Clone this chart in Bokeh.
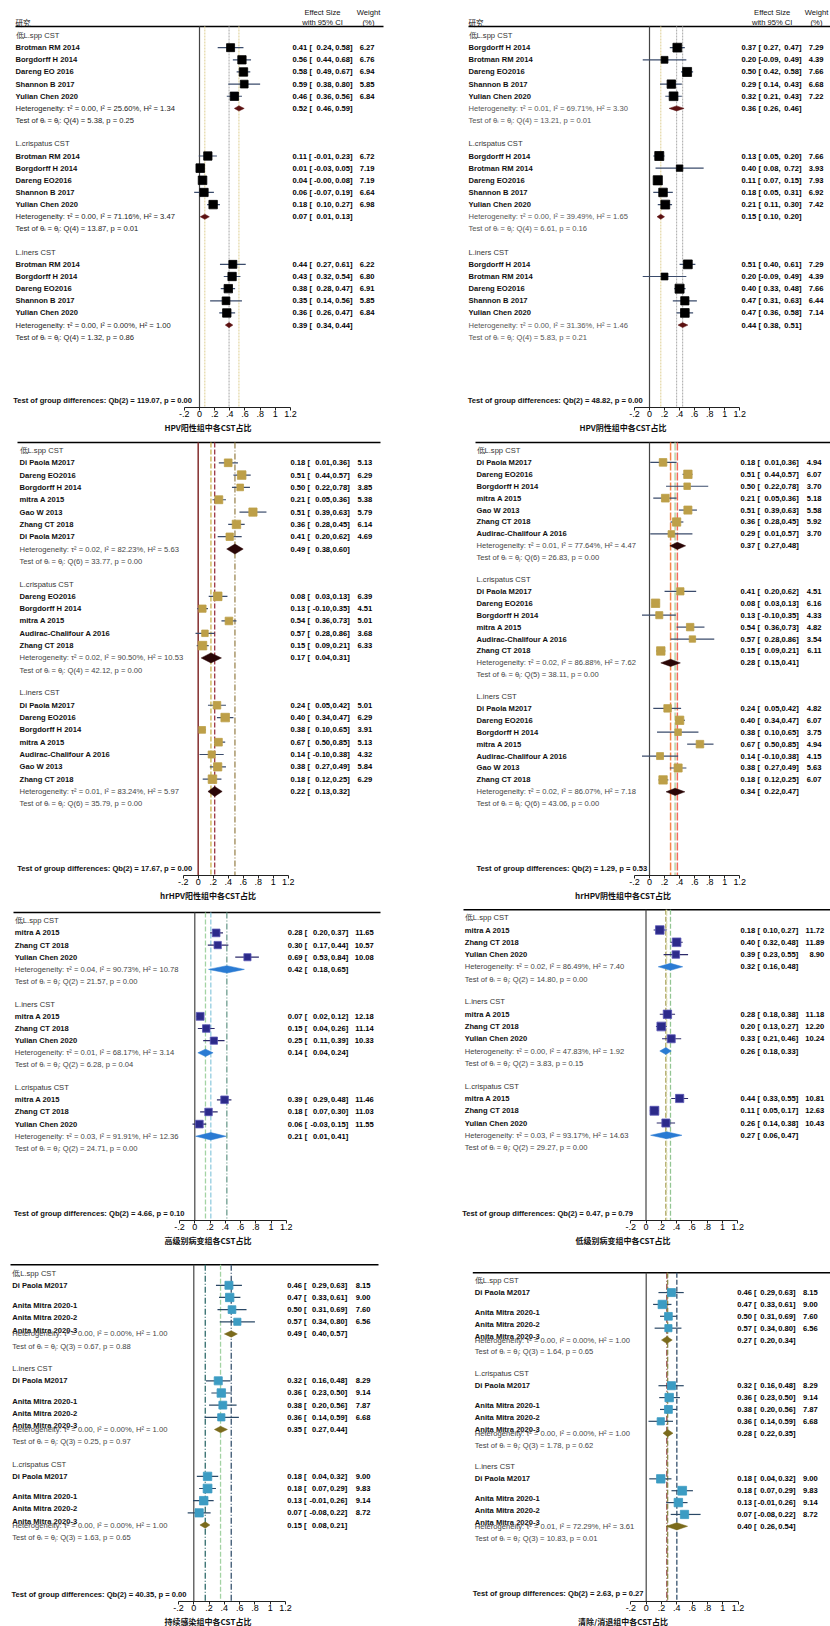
import math
from bokeh.plotting import figure
from bokeh.models import Range1d, FixedTicker, CustomJSTickFormatter, Title
from bokeh.layouts import column, row
from bokeh.core.properties import value
from bokeh.embed import file_html
from bokeh.resources import INLINE

# ---------------- DATA ----------------
AXIS_TICKS = [-0.2, 0, 0.2, 0.4, 0.6, 0.8, 1.0, 1.2]
HEAD_ES = ["Effect Size", "with 95% CI"]
HEAD_W = ["Weight", "(%)"]
HEAD_STUDY = "研究"

# Panel 1: HPV positive
P1_TITLE = "HPV阳性组中各CST占比"
P1_GROUPS = ["低L.spp CST", "L.crispatus CST", "L.iners CST"]
P1_STUDIES = [["Brotman RM 2014", "Borgdorff H 2014", "Dareng EO 2016", "Shannon B 2017", "Yulian Chen 2020"],
              ["Brotman RM 2014", "Borgdorff H 2014", "Dareng EO2016", "Shannon B 2017", "Yulian Chen 2020"],
              ["Brotman RM 2014", "Borgdorff H 2014", "Dareng EO2016", "Shannon B 2017", "Yulian Chen 2020"]]
P1_ES = [[0.41, 0.56, 0.58, 0.59, 0.46], [0.11, 0.01, 0.04, 0.06, 0.18], [0.44, 0.43, 0.38, 0.35, 0.36]]
P1_LO = [[0.24, 0.44, 0.49, 0.38, 0.36], [-0.01, -0.03, -0.0, -0.07, 0.10], [0.27, 0.32, 0.28, 0.14, 0.26]]
P1_HI = [[0.58, 0.68, 0.67, 0.80, 0.56], [0.23, 0.05, 0.08, 0.19, 0.27], [0.61, 0.54, 0.47, 0.56, 0.47]]
P1_W = [[6.27, 6.76, 6.94, 5.85, 6.84], [6.72, 7.19, 7.19, 6.64, 6.98], [6.22, 6.80, 6.91, 5.85, 6.84]]
P1_OV = [[0.52, 0.46, 0.59], [0.07, 0.01, 0.13], [0.39, 0.34, 0.44]]
P1_HET = ["τ² = 0.00, I² = 25.60%, H² = 1.34", "τ² = 0.00, I² = 71.16%, H² = 3.47", "τ² = 0.00, I² = 0.00%, H² = 1.00"]
P1_TEST = ["Q(4) = 5.38, p = 0.25", "Q(4) = 13.87, p = 0.01", "Q(4) = 1.32, p = 0.86"]
P1_GD = "Qb(2) = 119.07, p = 0.00"

# Panel 2: HPV negative
P2_TITLE = "HPV阴性组中各CST占比"
P2_GROUPS = ["低L.spp CST", "L.crispatus CST", "L.iners CST"]
P2_STUDIES = [["Borgdorff H 2014", "Brotman RM 2014", "Dareng EO2016", "Shannon B 2017", "Yulian Chen 2020"]] * 3
P2_ES = [[0.37, 0.20, 0.50, 0.29, 0.32], [0.13, 0.40, 0.11, 0.18, 0.21], [0.51, 0.20, 0.40, 0.47, 0.47]]
P2_LO = [[0.27, -0.09, 0.42, 0.14, 0.21], [0.05, 0.08, 0.07, 0.05, 0.11], [0.40, -0.09, 0.33, 0.31, 0.36]]
P2_HI = [[0.47, 0.49, 0.58, 0.43, 0.43], [0.20, 0.72, 0.15, 0.31, 0.30], [0.61, 0.49, 0.48, 0.63, 0.58]]
P2_W = [[7.29, 4.39, 7.66, 6.68, 7.22], [7.66, 3.93, 7.93, 6.92, 7.42], [7.29, 4.39, 7.66, 6.44, 7.14]]
P2_OV = [[0.36, 0.26, 0.46], [0.15, 0.10, 0.20], [0.44, 0.38, 0.51]]
P2_HET = ["τ² = 0.01, I² = 69.71%, H² = 3.30", "τ² = 0.00, I² = 39.49%, H² = 1.65", "τ² = 0.00, I² = 31.36%, H² = 1.46"]
P2_TEST = ["Q(4) = 13.21, p = 0.01", "Q(4) = 6.61, p = 0.16", "Q(4) = 5.83, p = 0.21"]
P2_GD = "Qb(2) = 48.82, p = 0.00"

# Panel 3: hrHPV positive (listed values and plotted markers differ in the source)
P3_TITLE = "hrHPV阳性组中各CST占比"
P3_GROUPS = ["低L.spp CST", "L.crispatus CST", "L.iners CST"]
P3_STUDIES = [["Di Paola M2017", "Dareng EO2016", "Borgdorff H 2014", "mitra A 2015", "Gao W 2013", "Zhang CT 2018", "Di Paola M2017"],
              ["Dareng EO2016", "Borgdorff H 2014", "mitra A 2015", "Audirac-Chalifour A 2016", "Zhang CT 2018"],
              ["Di Paola M2017", "Dareng EO2016", "Borgdorff H 2014", "mitra A 2015", "Audirac-Chalifour A 2016", "Gao W 2013", "Zhang CT 2018"]]
P3_ES = [[0.18, 0.51, 0.50, 0.21, 0.51, 0.36, 0.41], [0.08, 0.13, 0.54, 0.57, 0.15], [0.24, 0.40, 0.38, 0.67, 0.14, 0.38, 0.18]]
P3_LO = [[0.01, 0.44, 0.22, 0.05, 0.39, 0.28, 0.20], [0.03, -0.10, 0.36, 0.28, 0.09], [0.05, 0.34, 0.10, 0.50, -0.10, 0.27, 0.12]]
P3_HI = [[0.36, 0.57, 0.78, 0.36, 0.63, 0.45, 0.62], [0.13, 0.35, 0.73, 0.86, 0.21], [0.42, 0.47, 0.65, 0.85, 0.38, 0.49, 0.25]]
P3_W = [[5.13, 6.29, 3.85, 5.38, 5.79, 6.14, 4.69], [6.39, 4.51, 5.01, 3.68, 6.33], [5.01, 6.29, 3.91, 5.13, 4.32, 5.84, 6.29]]
P3_PLOT_ES = [[0.40, 0.58, 0.56, 0.275, 0.73, 0.51, 0.42], [0.26, 0.057, 0.41, 0.09, 0.057], [0.25, 0.36, 0.053, 0.27, 0.18, 0.26, 0.19]]
P3_PLOT_LO = [[0.275, 0.47, 0.45, 0.19, 0.55, 0.40, 0.26], [0.14, -0.013, 0.31, -0.036, -0.02], [0.13, 0.25, 0.0, 0.21, 0.017, 0.155, 0.06]]
P3_PLOT_HI = [[0.53, 0.70, 0.69, 0.37, 0.91, 0.62, 0.58], [0.39, 0.13, 0.51, 0.22, 0.14], [0.37, 0.47, 0.10, 0.36, 0.34, 0.37, 0.31]]
P3_OV = [[0.49, 0.38, 0.60], [0.17, 0.04, 0.31], [0.22, 0.13, 0.32]]
P3_HET = ["τ² = 0.02, I² = 82.23%, H² = 5.63", "τ² = 0.02, I² = 90.50%, H² = 10.53", "τ² = 0.01, I² = 83.24%, H² = 5.97"]
P3_TEST = ["Q(6) = 33.77, p = 0.00", "Q(4) = 42.12, p = 0.00", "Q(6) = 35.79, p = 0.00"]
P3_GD = "Qb(2) = 17.67, p = 0.00"

# Panel 4: hrHPV negative
P4_TITLE = "hrHPV阴性组中各CST占比"
P4_GROUPS = ["低L.spp CST", "L.crispatus CST", "L.iners CST"]
P4_STUDIES = [["Di Paola M2017", "Dareng EO2016", "Borgdorff H 2014", "mitra A 2015", "Gao W 2013", "Zhang CT 2018", "Audirac-Chalifour A 2016"],
              ["Di Paola M2017", "Dareng EO2016", "Borgdorff H 2014", "mitra A 2015", "Audirac-Chalifour A 2016", "Zhang CT 2018"],
              ["Di Paola M2017", "Dareng EO2016", "Borgdorff H 2014", "mitra A 2015", "Audirac-Chalifour A 2016", "Gao W 2013", "Zhang CT 2018"]]
P4_ES = [[0.18, 0.51, 0.50, 0.21, 0.51, 0.36, 0.29], [0.41, 0.08, 0.13, 0.54, 0.57, 0.15], [0.24, 0.40, 0.38, 0.67, 0.14, 0.38, 0.18]]
P4_LO = [[0.01, 0.44, 0.22, 0.05, 0.39, 0.28, 0.01], [0.20, 0.03, -0.10, 0.36, 0.28, 0.09], [0.05, 0.34, 0.10, 0.50, -0.10, 0.27, 0.12]]
P4_HI = [[0.36, 0.57, 0.78, 0.36, 0.63, 0.45, 0.57], [0.62, 0.13, 0.35, 0.73, 0.86, 0.21], [0.42, 0.47, 0.65, 0.85, 0.38, 0.49, 0.25]]
P4_W = [[4.94, 6.07, 3.70, 5.18, 5.58, 5.92, 3.70], [4.51, 6.16, 4.33, 4.82, 3.54, 6.11], [4.82, 6.07, 3.75, 4.94, 4.15, 5.63, 6.07]]
P4_OV = [[0.37, 0.27, 0.48], [0.28, 0.15, 0.41], [0.34, 0.22, 0.47]]
P4_HET = ["τ² = 0.01, I² = 77.64%, H² = 4.47", "τ² = 0.02, I² = 86.88%, H² = 7.62", "τ² = 0.02, I² = 86.07%, H² = 7.18"]
P4_TEST = ["Q(6) = 26.83, p = 0.00", "Q(5) = 38.11, p = 0.00", "Q(6) = 43.06, p = 0.00"]
P4_GD = "Qb(2) = 1.29, p = 0.53"

# Panel 5: high-grade lesion
P5_TITLE = "高级别病变组各CST占比"
P5_GROUPS = ["低L.spp CST", "L.iners CST", "L.crispatus CST"]
P5_STUDIES = [["mitra A 2015", "Zhang CT 2018", "Yulian Chen 2020"]] * 3
P5_ES = [[0.28, 0.30, 0.69], [0.07, 0.15, 0.25], [0.39, 0.18, 0.06]]
P5_LO = [[0.20, 0.17, 0.53], [0.02, 0.04, 0.11], [0.29, 0.07, -0.03]]
P5_HI = [[0.37, 0.44, 0.84], [0.12, 0.26, 0.39], [0.48, 0.30, 0.15]]
P5_W = [[11.65, 10.57, 10.08], [12.18, 11.14, 10.33], [11.46, 11.03, 11.55]]
P5_OV = [[0.42, 0.18, 0.65], [0.14, 0.04, 0.24], [0.21, 0.01, 0.41]]
P5_HET = ["τ² = 0.04, I² = 90.73%, H² = 10.78", "τ² = 0.01, I² = 68.17%, H² = 3.14", "τ² = 0.03, I² = 91.91%, H² = 12.36"]
P5_TEST = ["Q(2) = 21.57, p = 0.00", "Q(2) = 6.28, p = 0.04", "Q(2) = 24.71, p = 0.00"]
P5_GD = "Qb(2) = 4.66, p = 0.10"

# Panel 6: low-grade lesion
P6_TITLE = "低级别病变组中各CST占比"
P6_GROUPS = ["低L.spp CST", "L.iners CST", "L.crispatus CST"]
P6_STUDIES = [["mitra A 2015", "Zhang CT 2018", "Yulian Chen 2020"]] * 3
P6_ES = [[0.18, 0.40, 0.39], [0.28, 0.20, 0.33], [0.44, 0.11, 0.26]]
P6_LO = [[0.10, 0.32, 0.23], [0.18, 0.13, 0.21], [0.33, 0.05, 0.14]]
P6_HI = [[0.27, 0.48, 0.55], [0.38, 0.27, 0.46], [0.55, 0.17, 0.38]]
P6_W = [[11.72, 11.89, 8.90], [11.18, 12.20, 10.24], [10.81, 12.63, 10.43]]
P6_OV = [[0.32, 0.16, 0.48], [0.26, 0.18, 0.33], [0.27, 0.06, 0.47]]
P6_HET = ["τ² = 0.02, I² = 86.49%, H² = 7.40", "τ² = 0.00, I² = 47.83%, H² = 1.92", "τ² = 0.03, I² = 93.17%, H² = 14.63"]
P6_TEST = ["Q(2) = 14.80, p = 0.00", "Q(2) = 3.83, p = 0.15", "Q(2) = 29.27, p = 0.00"]
P6_GD = "Qb(2) = 0.47, p = 0.79"

# Panel 7: persistent infection
R4_LABELS = ["Di Paola M2017", "Anita Mitra 2020-1", "Anita Mitra 2020-2", "Anita Mitra 2020-3"]
R4_LABEL_ROWS = [0, 1.67, 2.67, 3.7]
P7_TITLE = "持续感染组中各CST占比"
P7_GROUPS = ["低L.spp CST", "L.iners CST", "L.crispatus CST"]
P7_ES = [[0.46, 0.47, 0.50, 0.57], [0.32, 0.36, 0.38, 0.36], [0.18, 0.18, 0.13, 0.07]]
P7_LO = [[0.29, 0.33, 0.31, 0.34], [0.16, 0.23, 0.20, 0.14], [0.04, 0.07, -0.01, -0.08]]
P7_HI = [[0.63, 0.61, 0.69, 0.80], [0.48, 0.50, 0.56, 0.59], [0.32, 0.29, 0.26, 0.22]]
P7_W = [[8.15, 9.00, 7.60, 6.56], [8.29, 9.14, 7.87, 6.68], [9.00, 9.83, 9.14, 8.72]]
P7_OV = [[0.49, 0.40, 0.57], [0.35, 0.27, 0.44], [0.15, 0.08, 0.21]]
P7_HET = ["τ² = 0.00, I² = 0.00%, H² = 1.00"] * 3
P7_TEST = ["Q(3) = 0.67, p = 0.88", "Q(3) = 0.25, p = 0.97", "Q(3) = 1.63, p = 0.65"]
P7_GD = "Qb(2) = 40.35, p = 0.00"

# Panel 8: clearance / regression (listed values and plotted markers differ in the source)
P8_TITLE = "清除/消退组中各CST占比"
P8_GROUPS = ["低L.spp CST", "L.crispatus CST", "L.iners CST"]
P8_ES = [[0.46, 0.47, 0.50, 0.57], [0.32, 0.36, 0.38, 0.36], [0.18, 0.18, 0.13, 0.07]]
P8_LO = [[0.29, 0.33, 0.31, 0.34], [0.16, 0.23, 0.20, 0.14], [0.04, 0.07, -0.01, -0.08]]
P8_HI = [[0.63, 0.61, 0.69, 0.80], [0.48, 0.50, 0.56, 0.59], [0.32, 0.29, 0.26, 0.22]]
P8_W = [[8.15, 9.00, 7.60, 6.56], [8.29, 9.14, 7.87, 6.68], [9.00, 9.83, 9.14, 8.72]]
P8_PLOT_ES = [[0.33, 0.21, 0.29, 0.29], [0.33, 0.30, 0.29, 0.19], [0.19, 0.47, 0.42, 0.50]]
P8_PLOT_LO = [[0.16, 0.09, 0.18, 0.11], [0.16, 0.17, 0.18, 0.03], [0.04, 0.33, 0.26, 0.32]]
P8_PLOT_HI = [[0.49, 0.33, 0.40, 0.46], [0.49, 0.44, 0.40, 0.35], [0.33, 0.61, 0.54, 0.71]]
P8_OV = [[0.27, 0.20, 0.34], [0.28, 0.22, 0.35], [0.40, 0.26, 0.54]]
P8_HET = ["τ² = 0.00, I² = 0.00%, H² = 1.00", "τ² = 0.00, I² = 0.00%, H² = 1.00", "τ² = 0.01, I² = 72.29%, H² = 3.61"]
P8_TEST = ["Q(3) = 1.64, p = 0.65", "Q(3) = 1.78, p = 0.62", "Q(3) = 10.83, p = 0.01"]
P8_GD = "Qb(2) = 2.63, p = 0.27"

# ---------------- LAYOUT / STYLE ----------------
FONT = "Liberation Sans"
CJK = "Noto Sans CJK SC"
FS = "7.6px"
FIG_W = 415

# x in page pixels; y relative to the row top
LAYOUT = {
    1: dict(L=0, Z=199.0, s=75.8, lab=15, es=292, lo=333, hi=352, w=374, hl0=15, hl1=383, ec=322, wc=368, gdx=12.7, hdr=26, lab1=35, rh=12.15, gap=23.3, gdy=400),
    2: dict(L=415, Z=649.0, s=75.2, lab=468, es=741, lo=780, hi=801, w=823, hl0=468, hl1=830, ec=771.7, wc=816, gdx=467.3, hdr=26, lab1=35, rh=12.15, gap=23.3, gdy=400),
    3: dict(L=0, Z=197.7, s=75.0, lab=19, es=290, lo=331.7, hi=349.3, w=371.7, hl0=17, hl1=380, gdx=16.7, hdr=10, lab1=18, rh=12.35, gap=22.7, gdy=437),
    4: dict(L=415, Z=649.0, s=75.3, lab=476, es=740, lo=781, hi=798.3, w=821, hl0=475, hl1=830, gdx=476, hdr=10, lab1=18, rh=11.95, gap=21.7, gdy=437),
    5: dict(L=0, Z=194.3, s=76.3, lab=14.3, es=287.3, lo=329.3, hi=347.7, w=373.3, hl0=13, hl1=380, gdx=13.3, hdr=12, lab1=20.3, rh=12.2, gap=22.7, gdy=314.3),
    6: dict(L=415, Z=645.5, s=76.5, lab=464.3, es=740, lo=779.3, hi=797.7, w=823.7, hl0=463, hl1=830, gdx=461.7, hdr=9.3, lab1=17.3, rh=12.3, gap=23, gdy=313.7),
    7: dict(L=0, Z=193.3, s=76.4, lab=11.7, es=286.7, lo=328.3, hi=346.7, w=370, hl0=10, hl1=378, gdx=11, hdr=19.3, lab1=27.7, rh=12.2, gap=22.6, gdy=350),
    8: dict(L=415, Z=645.7, s=76.6, lab=474.3, es=736.7, lo=776.7, hi=795, w=817.3, hl0=472.3, hl1=830, gdx=472.3, hdr=27.3, lab1=35.3, rh=11.9, gap=22, gdy=349),
}

STYLE = {
    1: dict(sq="#000000", sql="#000000", ci="#3a4b6b", dia="#5c1111", dh=2.6, c=3.2, zero="#444444", zw=1.2,
            vc=["#e3d6a3", "#e3d6a3", "#b5b5b5"], vd=["2 1", "2 1", "2 1"], vw=1.2, het="#222222", bold=True),
    2: dict(sq="#000000", sql="#000000", ci="#3a4b6b", dia="#5c1111", dh=2.5, c=3.25, zero="#444444", zw=1.2,
            vc=["#b5b5b5", "#e3d6a3", "#b5b5b5"], vd=["2 1", "2 1", "2 1"], vw=1.2, het="#555555", bold=True),
    3: dict(sq="#bd9f48", sql="#bd9f48", ci="#3a4b6b", dia="#2a0606", dh=5.0, c=3.4, zero="#8b3a3a", zw=1.6,
            vc=["#9c8652", "#c9b24e", "#9b3543"], vd=["6 2 1 2", "5 2", "5 2"], vw=1.3, het="#444444", bold=True),
    4: dict(sq="#bd9f48", sql="#bd9f48", ci="#3a4b6b", dia="#2a0606", dh=3.6, c=3.4, zero="#444444", zw=1.2,
            vc=["#f26b5b", "#f4874b", "#b8d7aa"], vd=["8 2", "8 2", "8 2"], vw=1.5, het="#444444", bold=True),
    5: dict(sq="#2c2a8a", sql="#5a58b5", ci="#2c2a6a", dia="#2a7bd3", dh=3.7, c=2.25, zero="#444444", zw=1.2,
            vc=["#6d9c8e", "#a3d3a3", "#93cde0"], vd=["6 2 1 2", "5 2", "5 2"], vw=1.3, het="#444444", bold=True),
    6: dict(sq="#2c2a8a", sql="#5a58b5", ci="#2c2a6a", dia="#2a7bd3", dh=3.5, c=2.5, zero="#444444", zw=1.2,
            vc=["#93c693", "#a39b4f", "#dcdcb0"], vd=["5 2", "5 2", "6 2 1 2"], vw=1.3, het="#444444", bold=True),
    7: dict(sq="#3c9cc3", sql="#3c9cc3", ci="#2a4866", dia="#7b6b1c", dh=3.2, c=2.8, zero="#444444", zw=1.2,
            vc=["#36526e", "#a3d3a3", "#2f6b6b"], vd=["6 2 1 2", "5 2", "6 2 1 2"], vw=1.3, het="#444444", bold=True),
    8: dict(sq="#3c9cc3", sql="#3c9cc3", ci="#2a4866", dia="#7b6b1c", dh=3.6, c=2.8, zero="#444444", zw=1.2,
            vc=["#8a3a3a", "#8a8a4a", "#36526e"], vd=["6 2 1 2", "5 2", "5 2"], vw=1.3, het="#444444", bold=True),
}

# frame heights (row top to axis line) and axis-band heights per row
ROW_FRAME = [407, 444, 321, 357]
ROW_AX = [25, 24, 24, 24]

FMT_JS = """
const v = Math.round(tick * 10) / 10;
let s = v.toString();
if (s.startsWith("0.")) { s = s.slice(1); }
else if (s.startsWith("-0.")) { s = "-" + s.slice(2); }
return s;
"""


def f2(v):
    return f"{v:.2f}"


def txt(p, xs, ys, texts, align="left", bold=False, color="#000000", size=FS, font=FONT):
    p.text(x=xs, y=ys, text=texts, text_font=value(font), text_font_size=size,
           text_font_style="bold" if bold else "normal", text_color=color,
           text_align=align, text_baseline="middle")


def panel(pid, title, groups, studies, es, lo, hi, w, ov, het, test, gd, ridx,
          plot_es=None, plot_lo=None, plot_hi=None, header=False, label_rows=None):
    LY = LAYOUT[pid]
    ST = STYLE[pid]
    Z, s, L = LY["Z"], LY["s"], LY["L"]
    frame_h = ROW_FRAME[ridx]
    ax_h = ROW_AX[ridx]

    def X(px):
        return (px - Z) / s

    p = figure(width=FIG_W, height=frame_h + ax_h, x_range=Range1d(X(L), X(L + FIG_W)),
               y_range=Range1d(frame_h, 0), output_backend="svg", toolbar_location=None,
               y_axis_location=None, min_border_left=0, min_border_right=0,
               min_border_top=0, min_border_bottom=ax_h)
    p.xgrid.visible = False
    p.ygrid.visible = False
    p.outline_line_color = None
    p.background_fill_color = "white"
    p.border_fill_color = "white"

    ax = p.xaxis[0]
    ax.bounds = (AXIS_TICKS[0], AXIS_TICKS[-1])
    ax.ticker = FixedTicker(ticks=AXIS_TICKS, minor_ticks=[])
    ax.formatter = CustomJSTickFormatter(code=FMT_JS)
    ax.axis_line_color = "#222222"
    ax.major_tick_line_color = "#222222"
    ax.major_tick_out = 3
    ax.major_tick_in = 0
    ax.minor_tick_out = 0
    ax.minor_tick_in = 0
    ax.major_label_standoff = 0
    ax.major_label_text_font = FONT
    ax.major_label_text_font_size = "9px"
    ax.major_label_text_color = "#000000"

    centre_px = Z + s * (AXIS_TICKS[0] + AXIS_TICKS[-1]) / 2 - L
    t = Title(text=title, align="center", offset=centre_px - FIG_W / 2, standoff=0,
              text_font=CJK, text_font_size="8px", text_font_style="bold", text_color="#111111")
    p.add_layout(t, "below")

    hdr = LY["hdr"]
    p.segment(x0=[X(LY["hl0"])], x1=[X(LY["hl1"])], y0=[hdr], y1=[hdr], line_color="#000000", line_width=1.4)
    if header:
        txt(p, [X(LY["ec"])] * 2, [hdr - 14, hdr - 4], HEAD_ES, align="center", color="#111111")
        txt(p, [X(LY["wc"])] * 2, [hdr - 14, hdr - 4], HEAD_W, align="center", color="#111111")
        txt(p, [X(LY["lab"])], [hdr - 4], [HEAD_STUDY], font=CJK, size="7.5px", color="#111111")

    p.segment(x0=[0], x1=[0], y0=[hdr], y1=[frame_h], line_color=ST["zero"], line_width=ST["zw"])
    for g in range(len(groups)):
        p.segment(x0=[ov[g][0]], x1=[ov[g][0]], y0=[hdr], y1=[frame_h], line_color=ST["vc"][g],
                  line_width=ST["vw"], line_dash=ST["vd"][g])

    rh = LY["rh"]
    y = LY["lab1"]
    bold = ST["bold"]
    for g in range(len(groups)):
        k = len(es[g])
        ys = [y + rh * (i + 1) for i in range(k)]
        het_y = y + rh * (k + 1)
        test_y = y + rh * (k + 2)
        pe = plot_es[g] if plot_es else es[g]
        pl = plot_lo[g] if plot_lo else lo[g]
        ph = plot_hi[g] if plot_hi else hi[g]
        p.segment(x0=pl, x1=ph, y0=ys, y1=ys, line_color=ST["ci"], line_width=1.2)
        p.scatter(x=pe, y=ys, marker="square", size=[ST["c"] * math.sqrt(v) for v in w[g]],
                  fill_color=ST["sq"], line_color=ST["sql"], line_width=0.8)
        oe, ol, oh = ov[g]
        dh = ST["dh"]
        p.patches(xs=[[ol, oe, oh, oe]], ys=[[het_y, het_y - dh, het_y, het_y + dh]],
                  fill_color=ST["dia"], line_color=ST["dia"], line_width=0.5)
        txt(p, [X(LY["lab"])], [y], [groups[g]], color="#333333")
        if label_rows is not None:
            lys = [y + rh * (1 + r) for r in label_rows]
            txt(p, [X(LY["lab"])] * len(studies), lys, studies, bold=bold, color="#111111")
        else:
            txt(p, [X(LY["lab"])] * k, ys, studies[g], bold=bold, color="#111111")
        txt(p, [X(LY["lab"])], [het_y], ["Heterogeneity: " + het[g]], color=ST["het"])
        txt(p, [X(LY["lab"])], [test_y], ["Test of θᵢ = θⱼ: " + test[g]], color=ST["het"])
        all_y = ys + [het_y]
        e_all = list(es[g]) + [oe]
        l_all = list(lo[g]) + [ol]
        h_all = list(hi[g]) + [oh]
        txt(p, [X(LY["es"])] * (k + 1), all_y, [f2(v) + " [" for v in e_all], bold=bold)
        txt(p, [X(LY["lo"])] * (k + 1), all_y, [f2(v) + "," for v in l_all], align="right", bold=bold)
        txt(p, [X(LY["hi"])] * (k + 1), all_y, [f2(v) + "]" for v in h_all], align="right", bold=bold)
        txt(p, [X(LY["w"])] * k, ys, [f2(v) for v in w[g]], align="right", bold=bold)
        y = test_y + LY["gap"]

    txt(p, [X(LY["gdx"])], [LY["gdy"]], ["Test of group differences: " + gd], bold=bold, color="#111111")
    return p


p1 = panel(1, P1_TITLE, P1_GROUPS, P1_STUDIES, P1_ES, P1_LO, P1_HI, P1_W, P1_OV, P1_HET, P1_TEST, P1_GD, 0, header=True)
p2 = panel(2, P2_TITLE, P2_GROUPS, P2_STUDIES, P2_ES, P2_LO, P2_HI, P2_W, P2_OV, P2_HET, P2_TEST, P2_GD, 0, header=True)
p3 = panel(3, P3_TITLE, P3_GROUPS, P3_STUDIES, P3_ES, P3_LO, P3_HI, P3_W, P3_OV, P3_HET, P3_TEST, P3_GD, 1,
           plot_es=P3_PLOT_ES, plot_lo=P3_PLOT_LO, plot_hi=P3_PLOT_HI)
p4 = panel(4, P4_TITLE, P4_GROUPS, P4_STUDIES, P4_ES, P4_LO, P4_HI, P4_W, P4_OV, P4_HET, P4_TEST, P4_GD, 1)
p5 = panel(5, P5_TITLE, P5_GROUPS, P5_STUDIES, P5_ES, P5_LO, P5_HI, P5_W, P5_OV, P5_HET, P5_TEST, P5_GD, 2)
p6 = panel(6, P6_TITLE, P6_GROUPS, P6_STUDIES, P6_ES, P6_LO, P6_HI, P6_W, P6_OV, P6_HET, P6_TEST, P6_GD, 2)
p7 = panel(7, P7_TITLE, P7_GROUPS, R4_LABELS, P7_ES, P7_LO, P7_HI, P7_W, P7_OV, P7_HET, P7_TEST, P7_GD, 3,
           label_rows=R4_LABEL_ROWS)
p8 = panel(8, P8_TITLE, P8_GROUPS, R4_LABELS, P8_ES, P8_LO, P8_HI, P8_W, P8_OV, P8_HET, P8_TEST, P8_GD, 3,
           plot_es=P8_PLOT_ES, plot_lo=P8_PLOT_LO, plot_hi=P8_PLOT_HI, label_rows=R4_LABEL_ROWS)

layout = column(row(p1, p2), row(p3, p4), row(p5, p6), row(p7, p8))
open("out.html", "w").write(file_html(layout, INLINE))
